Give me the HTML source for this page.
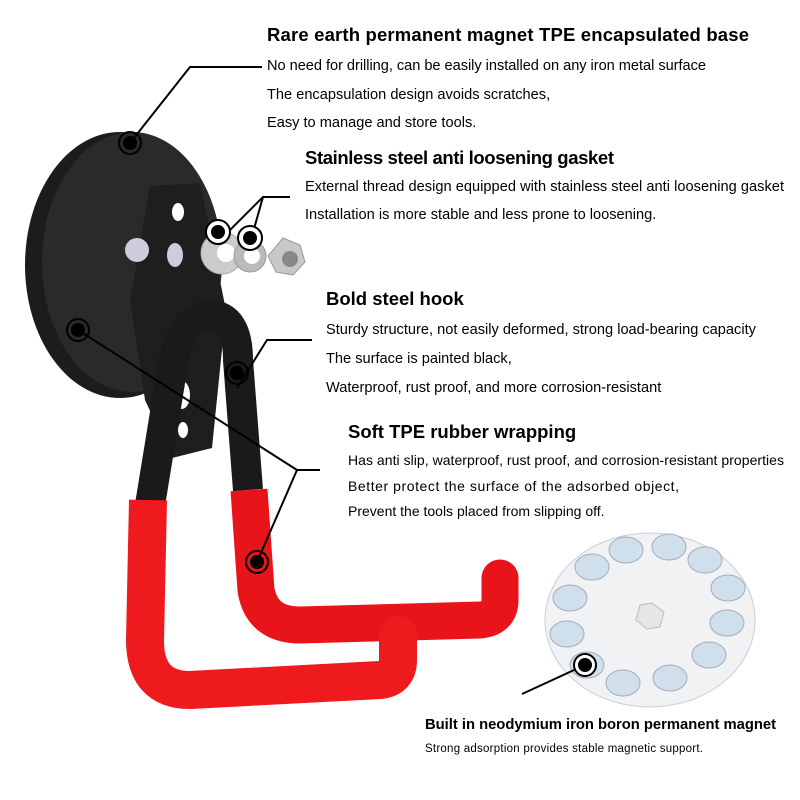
<!DOCTYPE html>
<html><head><meta charset="utf-8"><style>
body{margin:0;background:#fff}
svg{display:block}
text{font-family:"Liberation Sans",sans-serif;fill:#000}
.h{font-weight:bold;font-size:18.5px}
.t{font-size:14.6px}
.s{font-size:14px}
</style></head><body>
<svg width="800" height="800" viewBox="0 0 800 800">
<ellipse cx="120" cy="265" rx="95" ry="133" fill="#1c1c1c"/>
<ellipse cx="132" cy="262" rx="90" ry="130" fill="#2a2a2a"/>
<path d="M249 490 L256 590 Q262 625 300 625 L480 620 Q500 618 500 600 L500 578" fill="none" stroke="#e8141a" stroke-width="37" stroke-linejoin="round"/>
<circle cx="500" cy="578" r="18.5" fill="#e8141a"/>
<path d="M150 186 L200 183 L226 310 L212 448 L172 458 L145 400 L130 300 Z" fill="#1e1e1e"/>
<circle cx="137" cy="250" r="12" fill="#ccd"/>
<ellipse cx="178" cy="212" rx="6" ry="9" fill="#fff"/>
<ellipse cx="175" cy="255" rx="8" ry="12" fill="#ccd"/>
<ellipse cx="182" cy="395" rx="8" ry="14" fill="#fff"/>
<ellipse cx="183" cy="430" rx="5" ry="8" fill="#fff"/>
<path d="M150 505 L172 370 Q180 318 210 315 Q238 316 238 360 L248 490" fill="none" stroke="#1a1a1a" stroke-width="30" stroke-linejoin="round"/>
<path d="M148 500 L145 640 Q145 690 190 690 L380 680 Q398 678 398 660 L398 635" fill="none" stroke="#ee1a1e" stroke-width="38" stroke-linejoin="round"/>
<circle cx="398" cy="635" r="19" fill="#ee1a1e"/>
<circle cx="222" cy="253" r="21" fill="#ccc" stroke="#aaa"/><circle cx="226" cy="253" r="9" fill="#fff"/>
<circle cx="250" cy="256" r="16" fill="#bbb" stroke="#999"/><circle cx="252" cy="256" r="8" fill="#fff"/>
<polygon points="283,238 300,245 305,262 293,275 276,272 268,256" fill="#c8c8c8" stroke="#999"/><circle cx="290" cy="259" r="8" fill="#888"/>
<ellipse cx="650" cy="620" rx="105" ry="87" fill="#f0f2f4" stroke="#ccd" />
<polygon points="640,605 652,603 664,612 660,627 647,629 636,620" fill="#e4e6e8" stroke="#bbb"/>
<g fill="#cfe0ec" stroke="#aab">
<ellipse cx="626" cy="550" rx="17" ry="13"/><ellipse cx="669" cy="547" rx="17" ry="13"/>
<ellipse cx="705" cy="560" rx="17" ry="13"/><ellipse cx="728" cy="588" rx="17" ry="13"/>
<ellipse cx="727" cy="623" rx="17" ry="13"/><ellipse cx="709" cy="655" rx="17" ry="13"/>
<ellipse cx="670" cy="678" rx="17" ry="13"/><ellipse cx="623" cy="683" rx="17" ry="13"/>
<ellipse cx="587" cy="665" rx="17" ry="13"/><ellipse cx="567" cy="634" rx="17" ry="13"/>
<ellipse cx="570" cy="598" rx="17" ry="13"/><ellipse cx="592" cy="567" rx="17" ry="13"/>
</g>
<g fill="none" stroke="#000" stroke-width="2">
<polyline points="130,143 190,67 262,67"/>
<polyline points="218,242 263,197 290,197"/>
<polyline points="250,243 263,197"/>
<polyline points="237,388 267,340 312,340"/>
<polyline points="78,330 297,470 320,470"/>
<polyline points="257,562 297,470"/>
<polyline points="522,694 585,665"/>
</g>
<g>
<g transform="translate(130,143)"><circle r="11" fill="none" stroke="#000" stroke-width="2"/><circle r="7" fill="#000"/></g>
<g transform="translate(78,330)"><circle r="11" fill="none" stroke="#000" stroke-width="2"/><circle r="7" fill="#000"/></g>
<g transform="translate(218,232)"><circle r="12" fill="#fff" stroke="#000" stroke-width="2"/><circle r="7" fill="#000"/></g>
<g transform="translate(250,238)"><circle r="12" fill="#fff" stroke="#000" stroke-width="2"/><circle r="7" fill="#000"/></g>
<g transform="translate(237,373)"><circle r="11" fill="none" stroke="#000" stroke-width="2"/><circle r="7" fill="#000"/></g>
<g transform="translate(257,562)"><circle r="11" fill="none" stroke="#000" stroke-width="2"/><circle r="7" fill="#000"/></g>
<g transform="translate(585,665)"><circle r="11" fill="#fff" stroke="#000" stroke-width="2"/><circle r="7" fill="#000"/></g>
</g>
<text class="h" x="267" y="41" textLength="482">Rare earth permanent magnet TPE encapsulated base</text>
<text class="t" x="267" y="70" textLength="439">No need for drilling, can be easily installed on any iron metal surface</text>
<text class="t" x="267" y="99">The encapsulation design avoids scratches,</text>
<text class="t" x="267" y="127">Easy to manage and store tools.</text>
<text class="h" x="305" y="164" textLength="309">Stainless steel anti loosening gasket</text>
<text class="t" x="305" y="191" textLength="479">External thread design equipped with stainless steel anti loosening gasket</text>
<text class="t" x="305" y="219">Installation is more stable and less prone to loosening.</text>
<text class="h" x="326" y="305">Bold steel hook</text>
<text class="t" x="326" y="334">Sturdy structure, not easily deformed, strong load-bearing capacity</text>
<text class="t" x="326" y="363">The surface is painted black,</text>
<text class="t" x="326" y="392">Waterproof, rust proof, and more corrosion-resistant</text>
<text class="h" x="348" y="438">Soft TPE rubber wrapping</text>
<text class="s" x="348" y="465" textLength="436">Has anti slip, waterproof, rust proof, and corrosion-resistant properties</text>
<text class="s" x="348" y="491" textLength="331">Better protect the surface of the adsorbed object,</text>
<text class="s" x="348" y="516">Prevent the tools placed from slipping off.</text>
<text class="h" x="425" y="729" style="font-size:14.8px" textLength="351">Built in neodymium iron boron permanent magnet</text>
<text x="425" y="752" style="font-size:11.5px" textLength="278">Strong adsorption provides stable magnetic support.</text>
</svg>
</body></html>
